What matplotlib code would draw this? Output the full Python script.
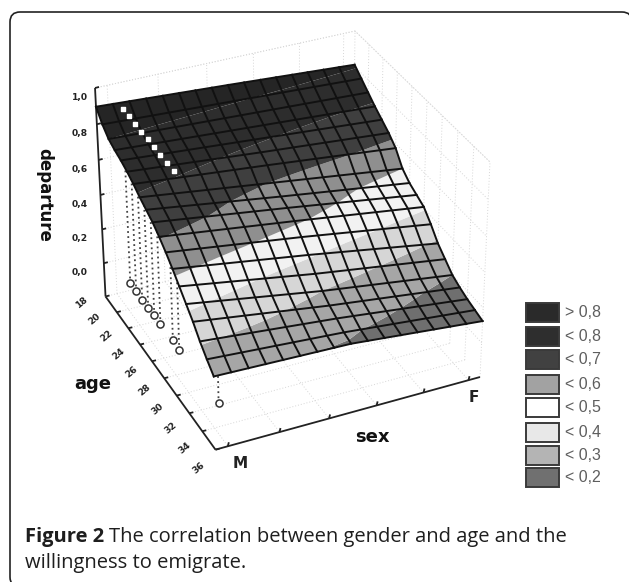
import numpy as np
import matplotlib
matplotlib.use("Agg")
import matplotlib.pyplot as plt
from matplotlib.patches import FancyBboxPatch, Rectangle

# Datos
ages = [18, 19, 20, 21, 22, 23, 24, 25, 26, 27, 28, 29, 30, 31, 32, 33, 34, 35, 36]
sex_nodes = [0.0, 0.5, 1.0]
dep_m = [.897, .84, .80, .78, .765, .745, .72, .69, .665, .64, .605, .565, .52, .47, .42, .37, .31, .26, .215]
dep_mid = [.855, .805, .765, .735, .71, .68, .65, .595, .56, .54, .51, .465, .41, .35, .30, .265, .24, .21, .195]
dep_f = [.81, .77, .73, .69, .655, .62, .575, .50, .46, .435, .41, .355, .29, .245, .20, .175, .155, .14, .125]

square_ages = [22, 23, 24, 25, 26, 27, 28, 29, 30]
square_z = [1.04, 1.04, 1.04, 1.04, 1.04, 1.04, 1.04, 1.04, 1.04]
circle_ages = [22, 23, 24, 25, 26, 27, 29, 30, 36]
circle_z = [.06, .06, .06, .06, .066, .061, .068, .059, .059]
point_sex = 0.015

z_ticks = [0.0, 0.2, 0.4, 0.6, 0.8, 1.0]
z_labels = ["0,0", "0,2", "0,4", "0,6", "0,8", "1,0"]
age_ticks = [18, 20, 22, 24, 26, 28, 30, 32, 34, 36]
sex_ticks = [0.045, 0.235, 0.42, 0.6, 0.78, 0.955]

levels = [-1, .2, .3, .4, .5, .6, .7, .8, 2]
band_colors = ["#6f6f6f", "#a6a6a6", "#d6d6d6", "#f2f2f2", "#8f8f8f", "#3f3f3f", "#2d2d2d", "#252525"]
legend_labels = ["> 0,8", "< 0,8", "< 0,7", "< 0,6", "< 0,5", "< 0,4", "< 0,3", "< 0,2"]
legend_colors = ["#2a2a2a", "#2e2e2e", "#414141", "#a2a2a2", "#ffffff", "#e8e8e8", "#b4b4b4", "#707070"]
legend_tops = [303, 327, 350, 375, 398, 423, 446, 468]

# Camara: esquinas de la caja en pixeles
anchors = [(0, 18, -0.2, 105, 297), (0, 18, 1.0, 95, 88), (1, 18, 1.0, 355, 31), (1, 36, 1.0, 490, 162),
           (1, 36, -0.2, 480, 377), (0, 36, -0.2, 215, 450), (0, 18, 0.0, 104, 263), (0, 27, -0.2, 159, 369)]
rows = []
for s, a, z, x, y in anchors:
    t = (a - 18) / 18
    rows.append([s, t, z, 1, 0, 0, 0, 0, -x * s, -x * t, -x * z, -x])
    rows.append([0, 0, 0, 0, s, t, z, 1, -y * s, -y * t, -y * z, -y])
P = np.linalg.svd(np.array(rows, float))[2][-1].reshape(3, 4)


def proj(s, a, z):
    s, a, z = np.broadcast_arrays(s, a, z)
    t = (a - 18) / 18
    w = P[2, 0] * s + P[2, 1] * t + P[2, 2] * z + P[2, 3]
    x = (P[0, 0] * s + P[0, 1] * t + P[0, 2] * z + P[0, 3]) / w
    y = (P[1, 0] * s + P[1, 1] * t + P[1, 2] * z + P[1, 3]) / w
    return x, y


fig = plt.figure(figsize=(6.29, 5.82), dpi=100)
ax = fig.add_axes([0, 0, 1, 1])
ax.set_xlim(0, 629)
ax.set_ylim(582, 0)
ax.axis("off")

# Marco redondeado
ax.add_patch(FancyBboxPatch((10, 12), 622, 575, boxstyle="round,pad=0,rounding_size=10",
                            fc="white", ec="#222222", lw=1.2, zorder=0))

# Rejilla punteada de la caja
dot = dict(color="#d6d6d6", lw=0.7, ls=(0, (1, 2)), zorder=1)
for a in age_ticks:
    ax.plot(*proj([0, 1], a, -0.2), **dot)
    ax.plot(*proj(1, a, [-0.2, 1]), **dot)
for s in sex_ticks:
    ax.plot(*proj(s, [18, 36], -0.2), **dot)
    ax.plot(*proj(s, 18, [-0.2, 1]), **dot)
for z in z_ticks:
    ax.plot(*proj([0, 1], 18, z), **dot)
    ax.plot(*proj(1, [18, 36], z), **dot)
ax.plot(*proj([0, 1, 1], [18, 18, 36], 1.0), **dot)

# Superficie
surface = np.array([dep_m, dep_mid, dep_f]).T
sex_grid = np.linspace(0, 1, 17)
age_arr = np.array(ages, float)
Z = np.array([np.interp(sex_grid, sex_nodes, row) for row in surface])
S, A = np.meshgrid(sex_grid, age_arr)
X, Y = proj(S, A, Z)

# Puntos bajo la superficie y sus lineas punteadas
for a, z in zip(circle_ages, circle_z):
    top = np.interp(point_sex, sex_nodes, surface[ages.index(a)])
    ax.plot(*proj(point_sex, a, [z, top]), color="#444444", lw=1.3, ls=(0, (1, 1.8)), zorder=2)
cx, cy = proj(point_sex, circle_ages, circle_z)
ax.scatter(cx, cy, s=26, facecolor="white", edgecolor="#333333", linewidth=1.1, zorder=3)

ax.contourf(X, Y, Z, levels=levels, colors=band_colors, zorder=4, antialiased=True)
for i in range(len(ages)):
    ax.plot(X[i], Y[i], color="#111111", lw=1.4, zorder=5)
for j in range(len(sex_grid)):
    ax.plot(X[:, j], Y[:, j], color="#111111", lw=1.4, zorder=5)

sx, sy = proj(point_sex, square_ages, square_z)
ax.scatter(sx, sy, s=12, marker="s", color="white", zorder=6)

# Ejes
axis_style = dict(color="#222222", lw=1.3, zorder=3, solid_capstyle="butt")
ax.plot(*proj(0, 18, [-0.2, 1.0]), **axis_style)
ax.plot(*proj(0, [18, 36], -0.2), **axis_style)
ax.plot(*proj([0, 1], 36, -0.2), **axis_style)
for z, lab in zip(z_ticks, z_labels):
    tx, ty = proj(0, 18, z)
    ax.plot([tx, tx + 4], [ty, ty - 1], **axis_style)
    ax.text(80, ty + 9.5, lab, ha="center", va="center", fontsize=6.6, fontweight="bold", color="#222222")
for a in age_ticks:
    tx, ty = proj(0, a, -0.2)
    ax.plot([tx, tx + 4], [ty, ty - 1], **axis_style)
    lx, ly = proj(-0.09, a + (a - 18) / 18 * 1.2, -0.2)
    ax.text(lx, ly, str(a), ha="center", va="center", rotation=40, fontsize=6.6, fontweight="bold", color="#222222")
for s in sex_ticks:
    tx, ty = proj(s, 36, -0.2)
    ax.plot([tx, tx + 1], [ty, ty - 4], **axis_style)

ax.text(44, 195, "departure", rotation=270, ha="center", va="center", fontsize=12, fontweight="bold", color="#111111")
ax.text(93, 384, "age", ha="center", va="center", fontsize=13, fontweight="bold", color="#111111")
ax.text(372, 437, "sex", ha="center", va="center", fontsize=13, fontweight="bold", color="#111111")
ax.text(240, 463, "M", ha="center", va="center", fontsize=11, fontweight="bold", color="#222222")
ax.text(474, 397, "F", ha="center", va="center", fontsize=11, fontweight="bold", color="#222222")

# Leyenda
for top, col, lab in zip(legend_tops, legend_colors, legend_labels):
    ax.add_patch(Rectangle((526, top), 33, 19, fc=col, ec="#3a3a3a", lw=1.4, zorder=3))
    ax.text(565, top + 9.5, lab, ha="left", va="center", fontsize=11.5, color="#5e5e5e", family="Liberation Sans")

# Pie de figura
fig.canvas.draw()
renderer = fig.canvas.get_renderer()
cap = dict(fontsize=14.5, color="#1e1e1e", family="Open Sans", va="center", ha="left")
bold = ax.text(25, 537, "Figure 2", fontweight="bold", **cap)
box = bold.get_window_extent(renderer)
ax.text(25 + box.width + 5, 537, "The correlation between gender and age and the", **cap)
ax.text(25, 563, "willingness to emigrate.", **cap)

fig.savefig("out.png", dpi=100)
plt.close()
